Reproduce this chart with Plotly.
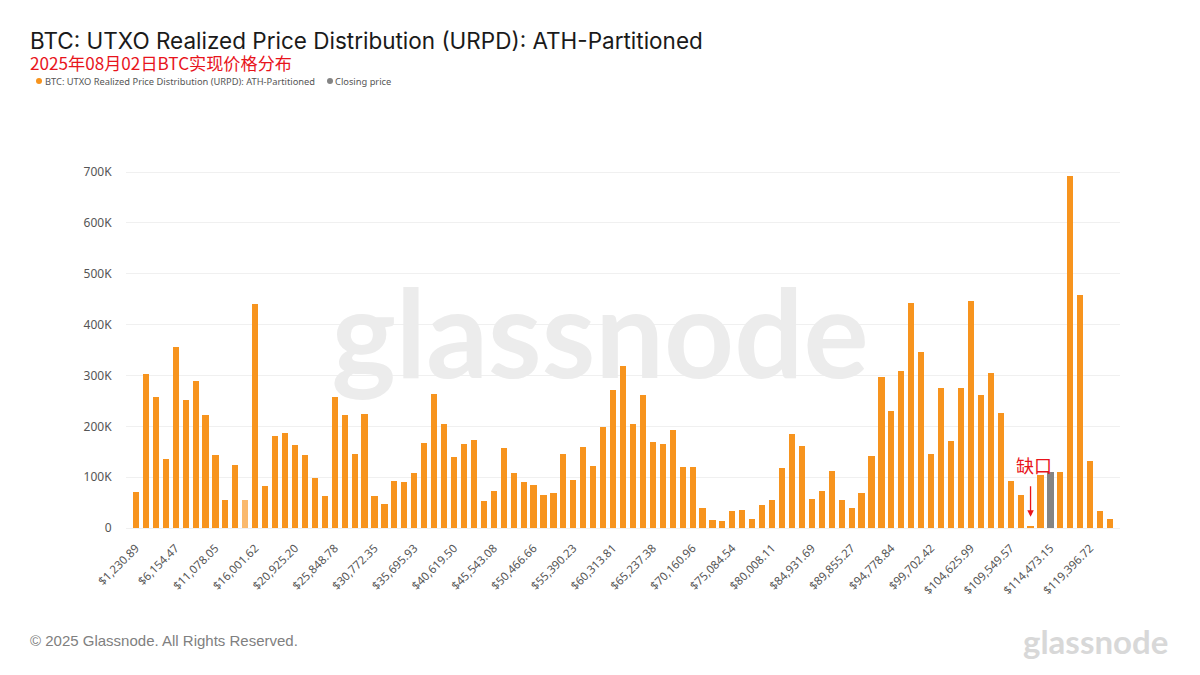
import plotly.graph_objects as go

TITLE = "BTC: UTXO Realized Price Distribution (URPD): ATH-Partitioned"
SUBTITLE = "2025年08月02日BTC实现价格分布"
SERIES_NAME = "BTC: UTXO Realized Price Distribution (URPD): ATH-Partitioned"
CLOSE_NAME = "Closing price"
FOOTER = "© 2025 Glassnode. All Rights Reserved."
LOGO = "glassnode"
GAP_LABEL = "缺口"

BIN_WIDTH = 1230.894
TICK_PRICES = [1230.89, 6154.47, 11078.05, 16001.62, 20925.20, 25848.78, 30772.35,
               35695.93, 40619.50, 45543.08, 50466.66, 55390.23, 60313.81, 65237.38,
               70160.96, 75084.54, 80008.11, 84931.69, 89855.27, 94778.84, 99702.42,
               104625.99, 109549.57, 114473.15, 119396.72]

URPD = [70, 302, 257, 135, 356, 251, 290, 222, 144, 56,
        124, 56, 441, 82, 180, 186, 163, 144, 99, 63,
        258, 223, 145, 225, 63, 48, 92, 90, 109, 167,
        264, 204, 139, 166, 174, 53, 73, 158, 109, 91,
        84, 65, 68, 145, 94, 159, 121, 198, 272, 318,
        205, 261, 169, 166, 193, 120, 120, 39, 16, 13,
        34, 35, 17, 46, 56, 118, 184, 161, 57, 73,
        112, 55, 39, 68, 141, 296, 231, 309, 442, 347,
        145, 275, 171, 276, 446, 262, 305, 227, 92, 64,
        2, 105, 111, 111, 692, 459, 132, 33, 17]

Y_TICKS = [0, 100, 200, 300, 400, 500, 600, 700]
Y_LABELS = ["0", "100K", "200K", "300K", "400K", "500K", "600K", "700K"]

HIGHLIGHT_BIN = 11   # paler bar
CLOSE_BIN = 92       # grey closing-price bar
GAP_BIN = 90         # bin the red arrow points at

ORANGE = "#f7941e"
GREY = "#848484"
RED = "#e8141c"

# the page adds an 8px body margin, so page positions are shifted back by OFF
OFF = 8
W, H = 1200, 675
L, R, T, B = 126 - OFF, 1200 - 1120 + OFF, 170 - OFF, 675 - 528 + OFF
PW, PH = W - L - R, H - T - B


def px_x(px):
    return (px - OFF - L) / PW


def px_y(py):
    return 1 - (py - OFF - T) / PH


prices = [i * BIN_WIDTH + TICK_PRICES[0] for i in range(len(URPD))]
colors = [ORANGE] * len(URPD)
colors[CLOSE_BIN] = GREY
opac = [1.0] * len(URPD)
opac[HIGHLIGHT_BIN] = 0.65
yvals = [v * 1000 for v in URPD]

fig = go.Figure()

# watermark lives on the lower subplot so that the bars cover it
fig.add_trace(go.Scatter(x=[px_x(600)], y=[354000], mode="text", text=[LOGO],
                         textfont=dict(family="Lato", size=122, color="#ececec", weight="bold"),
                         showlegend=False, hoverinfo="skip", xaxis="x", yaxis="y"))

fig.add_trace(go.Bar(x=prices, y=yvals, width=BIN_WIDTH * 0.62, name=SERIES_NAME,
                     marker=dict(color=colors, opacity=opac, line_width=0),
                     showlegend=False, xaxis="x2", yaxis="y2"))

x_range = [prices[0] - BIN_WIDTH, prices[-1] + BIN_WIDTH]
y_range = [0, 704000]

fig.update_layout(
    width=W, height=H, autosize=False,
    paper_bgcolor="white", plot_bgcolor="white",
    margin=dict(l=L, r=R, t=T, b=B, autoexpand=False),
    font=dict(family="Noto Sans", color="#555555"),
    bargap=0, barmode="overlay", showlegend=False,
    xaxis=dict(range=[0, 1], visible=False, fixedrange=True),
    yaxis=dict(range=y_range, tickvals=[t * 1000 for t in Y_TICKS], ticktext=Y_LABELS,
               tickfont=dict(size=12, color="#555555"), showgrid=True,
               gridcolor="#f0f0f0", gridwidth=1, zeroline=False, showline=False,
               ticks="outside", ticklen=11, tickcolor="rgba(0,0,0,0)"),
    xaxis2=dict(range=x_range, overlaying="x", tickvals=TICK_PRICES,
                ticktext=[f"${p:,.2f}" for p in TICK_PRICES], tickangle=-45,
                tickfont=dict(size=11.5, color="#555555"), showgrid=False,
                zeroline=False, showline=True, linecolor="#f0f0f0",
                ticks="outside", ticklen=8, tickcolor="rgba(0,0,0,0)", anchor="y2"),
    yaxis2=dict(range=y_range, overlaying="y", visible=False, anchor="x2"),
)


def page_text(text, px, py, size, color, family, anchor="left", weight=None):
    font = dict(size=size, color=color, family=family)
    if weight:
        font["weight"] = weight
    fig.add_annotation(text=text, xref="paper", yref="paper", x=px_x(px), y=px_y(py),
                       xanchor=anchor, yanchor="middle", showarrow=False, font=font,
                       borderpad=0, borderwidth=0)


def legend_dot(px, py, color):
    r = 3
    fig.add_shape(type="circle", xref="paper", yref="paper", line_width=0, fillcolor=color,
                  x0=px_x(px - r), x1=px_x(px + r), y0=px_y(py + r), y1=px_y(py - r))


page_text(TITLE, 30, 41, 22.5, "#1a1a1a", "Inter")
page_text(SUBTITLE, 30, 62, 17.15, RED, "Noto Sans CJK SC")
legend_dot(39, 81, ORANGE)
page_text(SERIES_NAME, 45, 81, 9.3, "#555555", "Noto Sans")
legend_dot(330, 81, GREY)
page_text(CLOSE_NAME, 335, 81, 9.3, "#555555", "Noto Sans")
page_text(FOOTER, 30, 640, 15, "#808080", "Liberation Sans")
page_text(LOGO, 1168, 641, 33, "#d8d8d8", "Lato", anchor="right", weight="bold")
page_text(GAP_LABEL, 1034, 465, 18, RED, "Noto Sans CJK SC", anchor="center")

fig.add_annotation(xref="x2", yref="y2", axref="pixel", ayref="pixel",
                   x=prices[GAP_BIN], y=22000, ax=0, ay=-32, text="",
                   showarrow=True, arrowhead=2, arrowsize=1, arrowwidth=1.3,
                   arrowcolor=RED)

fig.write_html("out.html")
